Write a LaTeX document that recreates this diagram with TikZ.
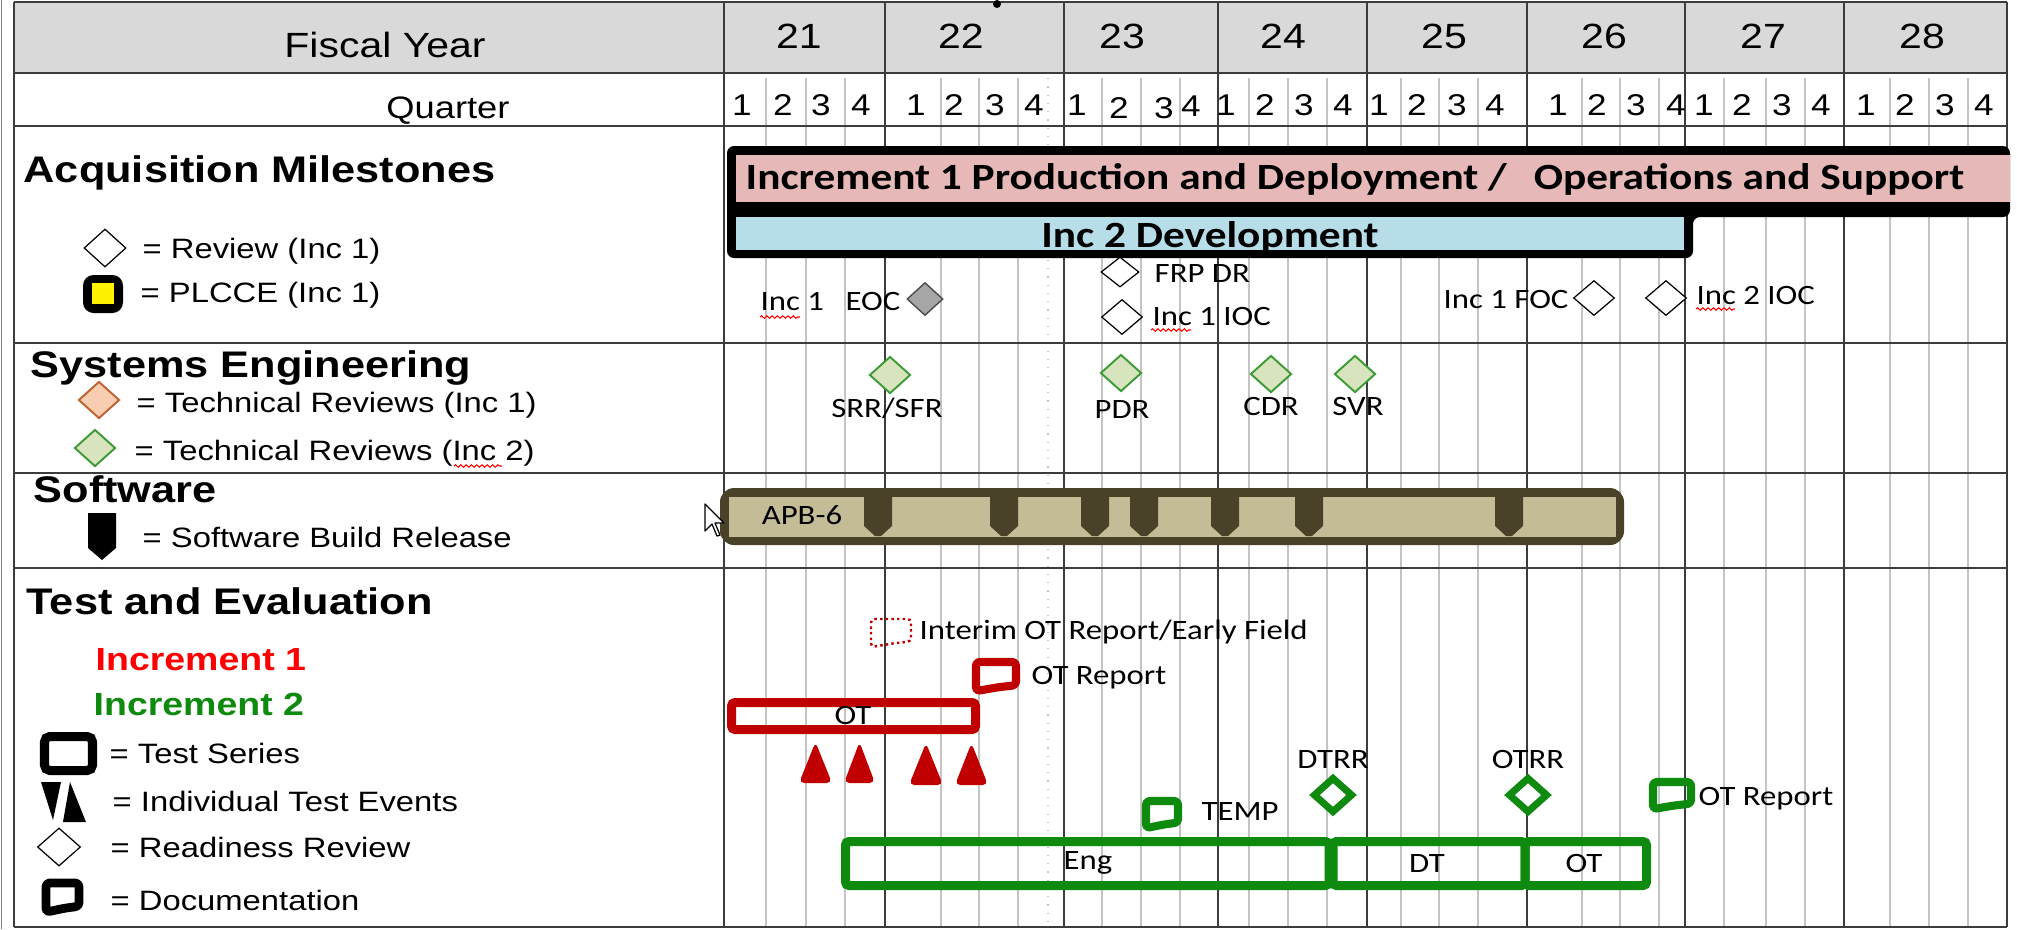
\documentclass[tikz,border=0pt]{standalone}
\usepackage{fontspec}
\setmainfont[FakeStretch=1.17]{Liberation Sans}
\newfontfamily\calfont[FakeStretch=1.17]{Carlito}
\usetikzlibrary{shapes.geometric,decorations.pathmorphing}
\newcommand\pxf[1]{\fontsize{\the\dimexpr 0.28453pt*#1\relax}{\the\dimexpr 0.34pt*#1\relax}\selectfont}
\definecolor{hdrgray}{HTML}{D9D9D9}
\definecolor{ygrid}{HTML}{3C3C3C}
\definecolor{qgrid}{HTML}{C4C4C4}
\definecolor{pinkbar}{HTML}{E6B9B8}
\definecolor{bluebar}{HTML}{B7DEE8}
\definecolor{swdark}{HTML}{4A4228}
\definecolor{swtan}{HTML}{C4BC96}
\definecolor{darkred}{HTML}{C00000}
\definecolor{tegreen}{HTML}{0E8A0E}
\definecolor{trfilltwo}{HTML}{D7E4BD}
\definecolor{trdrawtwo}{HTML}{3D9B35}
\definecolor{trfillone}{HTML}{F9CDB1}
\definecolor{trdrawone}{HTML}{C0622F}
\definecolor{eocgray}{HTML}{A6A6A6}
% document icon: style, x0, y0, x1, y1 (centre line of the stroke)
\newcommand\docicon[5]{%
  \draw[#1] (#2,#3) -- (#4,#3) -- (#4,{#5-0.2*(#5-#3)}) -- ({#2+0.5*(#4-#2)},{#5-0.12*(#5-#3)}) .. controls ({#2+0.25*(#4-#2)},{#5-0.05*(#5-#3)}) .. (#2,#5) -- cycle;}
\tikzset{
  qline/.style={draw=qgrid, line width=0.42pt},
  yline/.style={draw=ygrid, line width=0.55pt},
  hline/.style={draw=ygrid, line width=0.6pt},
  hd/.style={font=\pxf{35}, anchor=base, inner sep=0},
  qnum/.style={font=\pxf{30}, anchor=base, inner sep=0},
  sect/.style={font=\pxf{37}\bfseries, anchor=base west, inner sep=0},
  leg/.style={font=\pxf{28}, anchor=base west, inner sep=0},
  lbl/.style={font=\calfont\pxf{28}, anchor=base west, inner sep=0},
  lblc/.style={font=\calfont\pxf{28}, anchor=base, inner sep=0},
  bartxt/.style={font=\calfont\pxf{37}\bfseries, inner sep=0},
  dia/.style={diamond, inner sep=0, minimum width=0.41cm, minimum height=0.35cm},
  rev/.style={dia, draw=black, fill=white, line width=0.35pt},
  trtwo/.style={dia, draw=trdrawtwo, fill=trfilltwo, line width=0.55pt, minimum height=0.37cm},
  trone/.style={dia, draw=trdrawone, fill=trfillone, line width=0.55pt, minimum height=0.37cm},
  rrgreen/.style={dia, draw=tegreen, fill=white, line width=2pt, minimum width=0.40cm, minimum height=0.36cm},
  squig/.style={draw=red, line width=0.3pt, decorate, decoration={snake, amplitude=0.35pt, segment length=1.5pt}},
  docred/.style={draw=darkred, line width=2.3pt, rounded corners=1pt, line join=round},
  docgreen/.style={draw=tegreen, line width=2.3pt, rounded corners=1pt, line join=round},
  docblack/.style={draw=black, line width=2.5pt, rounded corners=1pt, line join=round},
  tebar/.style={line width=2.56pt, rounded corners=1pt},
}
\begin{document}
\begin{tikzpicture}[x=0.01cm,y=-0.01cm]
\useasboundingbox (0,0) rectangle (2017,929);
\fill[white] (0,0) rectangle (2017,929);
\fill[hdrgray] (14,2) rectangle (2007,73);
% grid
\foreach \x in {766,806,845,941,979,1018,1102,1141,1180,1249,1288,1327,1401,1439,1478,1582,1620,1659,1724,1766,1805,1890,1929,1968}
  \draw[qline] (\x,78) -- (\x,927);
\draw[qgrid, line width=0.35pt, dotted] (1048,78) -- (1048,927);
\foreach \x in {724,885,1064,1218,1367,1527,1685,1844,2007}
  \draw[yline] (\x,2) -- (\x,927);
\foreach \y in {2,73,126,343,473,568,927}
  \draw[hline] (14,\y) -- (2007,\y);
\draw[hline] (14,2) -- (14,927);
\draw[draw=gray, line width=0.5pt] (1.5,0) -- (1.5,929);
\fill[black] (997,4) circle (4);
% header
\node[hd] (fy) at (385,57) {Fiscal Year};
\foreach \x/\t [count=\i] in {799/21,961/22,1122/23,1283/24,1444/25,1604/26,1763/27,1922/28}
  \node[hd] (yr\i) at (\x,48) {\t};
\node[font=\pxf{31}, anchor=base, inner sep=0] (qtr) at (448,118) {Quarter};
\foreach \x/\t [count=\i] in {742/1,783/2,821/3,861/4,916/1,954/2,995/3,1034/4,1077/1,1226/1,1265/2,1304/3,1343/4,1379/1,1417/2,1457/3,1495/4,1558/1,1597/2,1636/3,1676/4,1704/1,1742/2,1782/3,1821/4,1866/1,1905/2,1945/3,1984/4}
  \node[qnum] (q\i) at (\x,115) {\t};
\node[qnum] (qa) at (1119,118) {2};
\node[qnum] (qb) at (1164,118) {3};
\node[qnum] (qc) at (1191,116) {4};
% acquisition legend
\node[sect] (acq) at (23,182) {Acquisition Milestones};
\node[rev, minimum width=0.42cm, minimum height=0.38cm] (lrev) at (105,248) {};
\node[leg] (lrevt) at (142,258) {= Review (Inc 1)};
\fill[black, rounded corners=3] (83,275) rectangle (123,313);
\fill[yellow] (92,283) rectangle (114,304);
\node[leg] (lplc) at (140,302) {= PLCCE (Inc 1)};
% acquisition bars
\fill[black, rounded corners=2] (727,146) -- (2010,146) -- (2010,217) -- (1693,217) -- (1693,258) -- (727,258) -- cycle;
\fill[pinkbar] (736,155) rectangle (2010,202);
\fill[bluebar] (736,217) rectangle (1684,250);
\node[bartxt, anchor=base west] (pdos) at (745,189) {Increment 1 Production and Deployment /\hspace{0.27cm}Operations and Support};
\node[bartxt, anchor=base] (inctwo) at (1210,247) {Inc 2 Development};
% milestones
\node[lbl] (eoca) at (760,310) {Inc 1};
\node[lbl] (eocb) at (845,310) {EOC};
\node[dia, draw=black!70, fill=eocgray, line width=0.4pt, minimum width=0.36cm, minimum height=0.33cm] (eocd) at (925,299) {};
\node[rev, minimum width=0.38cm, minimum height=0.30cm] (frpd) at (1120,272) {};
\node[lbl] (frpt) at (1154,282) {FRP DR};
\node[rev] (iocd) at (1122,317) {};
\node[lbl] (ioct) at (1152,325) {Inc 1 IOC};
\node[lbl] (foct) at (1443,308) {Inc 1 FOC};
\node[rev] (focd) at (1594,298) {};
\node[rev] (ioctwod) at (1666,298) {};
\node[lbl] (ioctwot) at (1696,304) {Inc 2 IOC};
\draw[squig] (760,317) -- (800,317);
\draw[squig] (1151,330) -- (1191,330);
\draw[squig] (1696,309) -- (1735,309);
% systems engineering
\node[sect] (se) at (30,377) {Systems Engineering};
\node[trone] (ltrone) at (99,400) {};
\node[leg] (ltronet) at (136,412) {= Technical Reviews (Inc 1)};
\node[trtwo] (ltrtwo) at (95,448) {};
\node[leg] (ltrtwot) at (134,460) {= Technical Reviews (Inc 2)};
\draw[squig] (454,466) -- (502,466);
\node[trtwo] (srr) at (890,375) {};
\node[lblc] (srrt) at (887,417) {SRR/SFR};
\node[trtwo] (pdr) at (1121,373) {};
\node[lblc] (pdrt) at (1122,418) {PDR};
\node[trtwo] (cdr) at (1271,374) {};
\node[lblc] (cdrt) at (1271,415) {CDR};
\node[trtwo] (svr) at (1355,374) {};
\node[lblc] (svrt) at (1358,415) {SVR};
% software
\node[sect] (sw) at (33,502) {Software};
\fill[black] (88,513) -- (116,513) -- (116,548) -- (102,560) -- (88,548) -- cycle;
\node[leg] (lsw) at (142,547) {= Software Build Release};
\fill[swdark, rounded corners=4] (720,488) rectangle (1624,545);
\fill[swtan] (729,497) rectangle (1616,537);
\foreach \m in {878,1004,1095,1144,1225,1309,1509}
  \fill[swdark] (\m-14,497) -- (\m+14,497) -- (\m+14,526) -- (\m+3,536) -- (\m-3,536) -- (\m-14,526) -- cycle;
\node[lblc] (apb) at (802,524) {APB-6};
\draw[black, fill=white, line width=0.35pt, line join=round] (705,504) -- ++(0,27) -- ++(7,-7) -- ++(5,12) -- ++(3,-1) -- ++(-5,-12) -- ++(9,0) -- cycle;
% test and evaluation legend
\node[sect] (te) at (26,614) {Test and Evaluation};
\node[font=\pxf{32}\bfseries, text=red, anchor=base west, inner sep=0] (incone) at (95,670) {Increment 1};
\node[font=\pxf{32}\bfseries, text=tegreen, anchor=base west, inner sep=0] (inctwol) at (93,715) {Increment 2};
\draw[black, line width=2.56pt, rounded corners=1.5pt] (44.5,736.5) rectangle (92.5,770.5);
\node[leg] (lts) at (109,763) {= Test Series};
\fill[black] (41,782) -- (61,782) -- (53,820) -- cycle;
\fill[black] (70,782) -- (86,822) -- (63,822) -- cycle;
\node[leg] (lite) at (112,811) {= Individual Test Events};
\node[rev, minimum width=0.43cm, minimum height=0.38cm] (lrr) at (59,847) {};
\node[leg] (lrrt) at (110,857) {= Readiness Review};
\docicon{docblack}{46}{883}{79}{912}
\node[leg] (ldoc) at (110,910) {= Documentation};
% test and evaluation chart, increment 1
\docicon{draw=darkred, line width=0.7pt, dash pattern=on 0.7pt off 0.9pt, rounded corners=1pt}{871}{619}{911}{647}
\node[lbl] (interim) at (919,639) {Interim OT Report/Early Field};
\docicon{docred}{976}{662}{1016}{691}
\node[lbl] (otrepa) at (1031,684) {OT Report};
\draw[tebar, draw=darkred] (731.5,702.5) rectangle (975.5,729.5);
\node[lblc] (ota) at (853,724) {OT};
\foreach \a/\b/\t/\bt in {799/832/742/783,844/875/742/783,909/943/743/785,955/988/743/785}
  \fill[darkred, rounded corners=1.5pt] (\a,\bt) -- ({(\a+\b)/2},\t) -- (\b,\bt) -- cycle;
% increment 2
\node[lblc] (dtrrt) at (1333,768) {DTRR};
\node[rrgreen] (dtrr) at (1333,795) {};
\node[lblc] (otrrt) at (1528,768) {OTRR};
\node[rrgreen] (otrr) at (1528,795) {};
\docicon{docgreen}{1146}{801}{1178}{828}
\node[lbl] (temp) at (1201,820) {TEMP};
\draw[tebar, draw=tegreen] (845.5,841.5) rectangle (1329,885.5);
\draw[tebar, draw=tegreen] (1333,841.5) rectangle (1525,885.5);
\draw[tebar, draw=tegreen] (1525,841.5) rectangle (1646.5,885.5);
\node[lblc] (eng) at (1088,869) {Eng};
\node[lblc] (dt) at (1427,872) {DT};
\node[lblc] (otb) at (1584,872) {OT};
\docicon{docgreen}{1653}{782}{1691}{809}
\node[lbl] (otrepb) at (1698,805) {OT Report};
\end{tikzpicture}
\end{document}
